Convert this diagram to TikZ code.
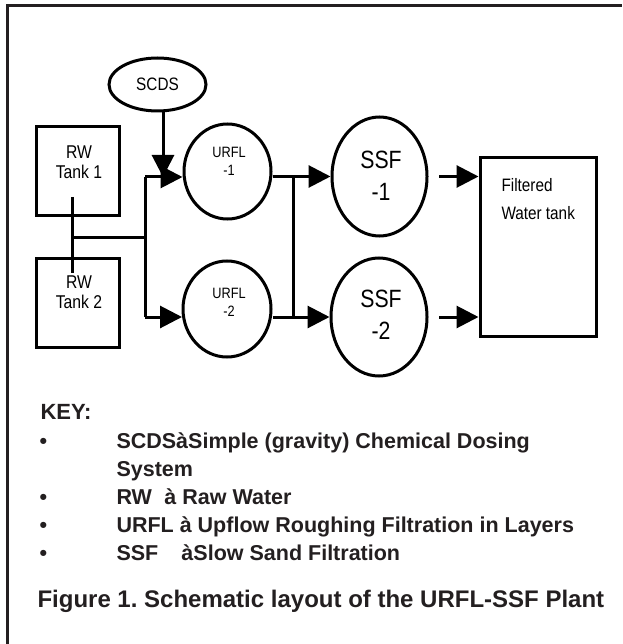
\documentclass[tikz,border=0pt]{standalone}
\usepackage{fontspec}
\setmainfont{Liberation Sans}
\newfontfamily\nar[FakeStretch=0.85]{Liberation Sans}
\usetikzlibrary{shapes.geometric,arrows.meta,calc}
\definecolor{ink}{HTML}{000000}
\definecolor{keyink}{HTML}{231F20}
\frenchspacing
\begin{document}
\begin{tikzpicture}[x=1pt,y=-1pt, line width=3pt,
  ell/.style={draw=ink, ellipse, inner sep=0pt},
  tank/.style={draw=ink, rectangle, inner sep=0pt},
  lbl/.style={inner sep=0pt, align=center, text=ink},
  arr/.style={-{Triangle[length=22pt,width=22pt]}},
  keytext/.style={anchor=base west, inner sep=0pt, align=left, text=keyink, font=\bfseries\fontsize{21.5}{28}\selectfont}]
\useasboundingbox (0,0) rectangle (622,644);
% frame
\coordinate (fTL) at (7.5,5.8);
\coordinate (fTR) at (622,5.8);
\coordinate (fBL) at (7.5,644);
\draw[line width=3pt, keyink] (fBL) -- (fTL) -- (fTR);
% nodes
\node[ell, minimum width=97pt, minimum height=53pt, font=\nar\fontsize{18}{20}\selectfont] (scds) at (157.5,84.5) {SCDS};
\node[tank, minimum width=83pt, minimum height=88pt] (t1) at (77.5,171) {};
\node[lbl, font=\nar\fontsize{18.5}{20}\selectfont] (t1t) at (79,162) {RW\\Tank 1};
\node[tank, minimum width=83pt, minimum height=89pt] (t2) at (77.5,302.5) {};
\node[lbl, font=\nar\fontsize{18.5}{20}\selectfont] (t2t) at (79,292) {RW\\Tank 2};
\node[ell, minimum width=87pt, minimum height=95pt] (u1) at (227.5,171.5) {};
\node[lbl, font=\nar\fontsize{15}{18}\selectfont] (u1t) at (229,161) {URFL\\-1};
\node[ell, minimum width=88pt, minimum height=96pt] (u2) at (227,309) {};
\node[lbl, font=\nar\fontsize{15}{18}\selectfont] (u2t) at (229,302) {URFL\\-2};
\node[ell, minimum width=95pt, minimum height=119pt] (s1) at (379.5,176.5) {};
\node[lbl, font=\nar\fontsize{25}{32}\selectfont] (s1t) at (381,176) {SSF\\-1};
\node[ell, minimum width=96pt, minimum height=118pt] (s2) at (379,317) {};
\node[lbl, font=\nar\fontsize{25}{32}\selectfont] (s2t) at (381,315) {SSF\\-2};
\node[tank, minimum width=116pt, minimum height=178pt] (ft) at (538,247) {};
\node[inner sep=0pt, anchor=base west, align=left, text=ink, font=\nar\fontsize{18}{28}\selectfont] (ftt) at (500,219.5) {Filtered\\Water tank};
% connectors
\coordinate (j) at (145,237);
\coordinate (p1) at (72,197);
\coordinate (p2) at (72,273);
\coordinate (a1) at (182.5,177);
\coordinate (a2) at (182,317);
\coordinate (d) at (163,177);
\coordinate (m) at (293,0);
\coordinate (f1) at (439,176.5);
\coordinate (f2) at (439,317);
\draw (p1) -- (p2);
\draw (p1 |- j) -- (j);
\draw (j |- a1) -- (j |- a2);
\draw[arr] (j |- a1) -- (a1);
\draw[arr] (j |- a2) -- (a2);
\draw[arr] (d |- scds.south) -- (d);
\draw[arr] (u1.east |- s1.west) -- (s1.west);
\draw[arr] (u2.east |- s2.west) -- (s2.west);
\draw (m |- s1.west) -- (m |- s2.west);
\draw[arr] (f1) -- (f1 -| ft.west);
\draw[arr] (f2) -- (f2 -| ft.west);
% key
\node[keytext, font=\fontsize{22}{26}\selectfont\bfseries] (key) at (39,419) {\bfseries KEY:};
\node[keytext] (b1) at (38,448) {•};
\node[keytext] (b2) at (38,504) {•};
\node[keytext] (b3) at (38,532) {•};
\node[keytext] (b4) at (38,560) {•};
\node[keytext] (k1) at (115,476) {SCDSàSimple (gravity) Chemical Dosing\\System};
\node[keytext] (k2) at (115,504) {\makebox[48pt][l]{RW}à Raw Water};
\node[keytext] (k3) at (115,532) {URFL à Upflow Roughing Filtration in Layers};
\node[keytext] (k4) at (115,560) {\makebox[65pt][l]{SSF}àSlow Sand Filtration};
\node[keytext, font=\bfseries\fontsize{24}{28}\selectfont] (cap) at (36,607.5) {Figure 1. Schematic layout of the URFL-SSF Plant};
\end{tikzpicture}
\end{document}
